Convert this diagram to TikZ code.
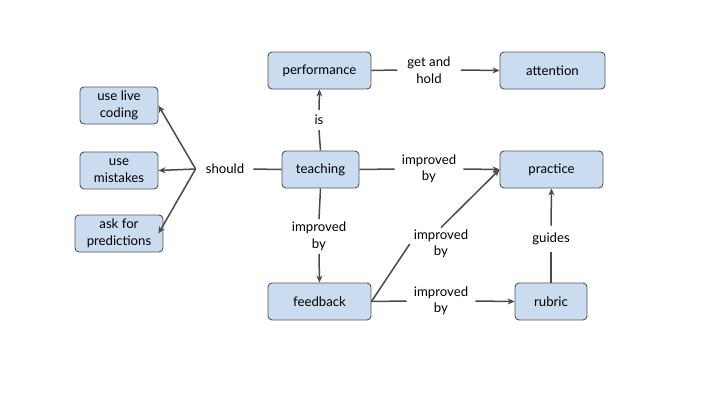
\documentclass[tikz,border=0pt]{standalone}
\usepackage{fontspec}
\setmainfont{Lato}
\usetikzlibrary{arrows.meta}
\definecolor{boxfill}{HTML}{C9DCF0}
\definecolor{boxline}{HTML}{555555}
\definecolor{linec}{HTML}{4A4A4A}
\tikzset{
  concept/.style={draw=boxline, fill=boxfill, rounded corners=4pt, line width=0.9pt,
    minimum height=37pt, inner sep=2pt, align=center, font=\fontsize{13.2}{16.5}\selectfont, text=black},
  lbl/.style={inner xsep=7pt, inner ysep=4pt, align=center, font=\fontsize{13.2}{16.5}\selectfont, text=black},
  conn/.style={draw=linec, line width=1.5pt},
  arr/.style={conn, -{Stealth[length=7pt,width=6pt]}}
}
\begin{document}
\begin{tikzpicture}[x=1pt,y=-1pt]
\useasboundingbox (0,0) rectangle (720,405);
% concept nodes
\node[concept, minimum width=103pt] (perf) at (319.5,70.5) {performance};
\node[concept, minimum width=105pt] (att) at (552.5,70.5) {attention};
\node[concept, minimum width=77pt] (teach) at (320.5,169.5) {teaching};
\node[concept, minimum width=103pt] (prac) at (551.5,169.5) {practice};
\node[concept, minimum width=103pt] (feed) at (319.5,301.5) {feedback};
\node[concept, minimum width=72pt] (rub) at (551,301.5) {rubric};
\node[concept, minimum width=78pt] (live) at (119,105.5) {use live\\coding};
\node[concept, minimum width=78pt] (mist) at (119,170.5) {use\\mistakes};
\node[concept, minimum width=88pt] (pred) at (119,233.5) {ask for\\predictions};
% labels
\node[lbl, inner xsep=9pt] (should) at (225,169) {should};
\node[lbl, inner ysep=5pt] (is) at (319,120) {is};
\node[lbl, inner xsep=10pt] (gah) at (429,70) {get and\\hold};
\node[lbl] (ib1) at (429,169) {improved\\by};
\node[lbl, inner ysep=3pt] (ib2) at (319,236.5) {improved\\by};
\node[lbl, inner xsep=4pt, inner ysep=2pt] (ib3) at (441,244) {improved\\by};
\node[lbl] (ib4) at (441,301) {improved\\by};
\node[lbl, inner ysep=7pt] (guides) at (551,239) {guides};
% connectors
\draw[conn] (teach.west) -- (should.east);
\coordinate (fork) at ([xshift=-1pt]should.west);
\draw[arr] (fork) -- (live.east);
\draw[arr] (fork) -- (mist.east);
\draw[arr] (fork) -- ([xshift=-5pt]pred.east);
\draw[conn] (teach.north) -- (is.south);
\draw[arr] (is.north) -- (perf.south);
\draw[conn] (perf.east) -- (gah.west);
\draw[arr] (gah.east) -- (att.west);
\draw[conn] (teach.east) -- (ib1.west);
\draw[arr] (ib1.east) -- (prac.west);
\draw[conn] (teach.south) -- (ib2.north);
\draw[arr] (ib2.south) -- (feed.north);
\draw[conn] (feed.east) -- (ib3.west);
\draw[arr] (ib3.north) -- (prac.west);
\draw[conn] (feed.east) -- (ib4.west);
\draw[arr] (ib4.east) -- (rub.west);
\draw[conn] (rub.north) -- (guides.south);
\draw[arr] (guides.north) -- (prac.south);
\end{tikzpicture}
\end{document}
